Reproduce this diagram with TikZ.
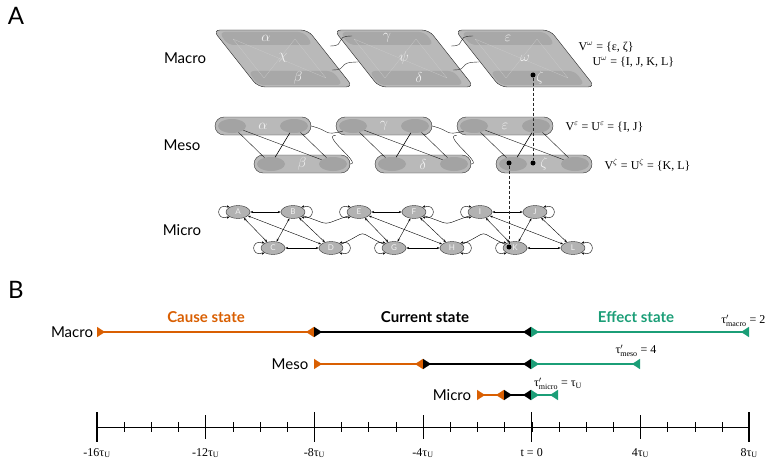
\documentclass[tikz,border=0pt]{standalone}
\usepackage{fontspec}
\setmainfont{Liberation Serif}
\newfontfamily\labelfont{Lato}
\usetikzlibrary{shapes.geometric,arrows.meta,positioning}

\tikzset{
  panel/.style={font=\labelfont\fontsize{24}{24}\selectfont},
  level/.style={font=\labelfont\fontsize{15}{15}\selectfont},
  setlab/.style={font=\fontsize{12}{12}\selectfont, anchor=west},
  micro/.style={ellipse, draw=gray!40!black, fill=gray!60, minimum width=24pt,
    minimum height=13pt, inner sep=0pt, text=gray!10, font=\labelfont\fontsize{8}{8}\selectfont},
  meso/.style={rectangle, rounded corners=9pt, draw=gray!40!black, fill=gray!55,
    minimum width=96pt, minimum height=18pt, inner sep=0pt},
  mesoin/.style={ellipse, fill=gray!72, minimum width=28pt, minimum height=14pt, inner sep=0pt},
  greek/.style={text=gray!10, font=\fontsize{14}{14}\selectfont},
  link/.style={<->, >={Stealth[length=3pt]}, thin},
  seg/.style={line width=1.3pt, {Triangle[reversed,length=8pt,width=10pt]}-{Triangle[reversed,length=8pt,width=10pt]}},
  dot/.style={circle, fill=black, inner sep=0pt, minimum size=5pt},
}
\definecolor{cause}{RGB}{217,95,2}
\definecolor{effect}{RGB}{27,158,119}

\begin{document}
\begin{tikzpicture}[x=1pt,y=1pt,yscale=-1]
\useasboundingbox (0,0) rectangle (769,460);

% panel A
\node[panel] (pa) at (16,16) {A};
\node[level] (lmacro) at (185,58) {Macro};
\node[level] (lmeso) at (182,145) {Meso};
\node[level] (lmicro) at (182,230) {Micro};

% macro level
\foreach \c/\big/\up/\lo in {0/\chi/\alpha/\beta, 1/\psi/\gamma/\delta, 2/\omega/\varepsilon/\zeta}{
  \begin{scope}[xshift=\c*121pt]
    \draw[draw=gray!30!black, fill=gray!55, rounded corners=7pt]
      (213,30) -- (308,30) -- (353,87) -- (258,87) -- cycle;
    \fill[gray!68, rounded corners=6pt] (219,32) -- (304,32) -- (313,45) -- (228,45) -- cycle;
    \fill[gray!68, rounded corners=6pt] (248,71) -- (333,71) -- (343,85) -- (258,85) -- cycle;
    \draw[gray!40, very thin] (233,39) -- (264,78) (295,39) -- (326,78) (233,39) -- (326,78) (295,39) -- (264,78);
    \node[greek] at (283,58) {$\big$};
    \node[greek] at (266,38) {$\up$};
    \node[greek] at (298,78) {$\lo$};
  \end{scope}
}
\foreach \c in {0,1}{
  \begin{scope}[xshift=\c*121pt]
    \draw[gray!30!black, thin] (330,46) .. controls (348,46) and (332,36) .. (352,36);
    \draw[gray!30!black, thin] (332,70) .. controls (350,70) and (335,62) .. (358,62);
  \end{scope}
}

% meso level
\foreach \c/\up/\lo in {0/\alpha/\beta, 1/\gamma/\delta, 2/\varepsilon/\zeta}{
  \node[meso] (top\c) at (263+\c*121,126) {};
  \node[meso] (bot\c) at (302+\c*121,164) {};
  \node[mesoin] (tl\c) at (232+\c*121,126) {};
  \node[mesoin] (tr\c) at (294+\c*121,126) {};
  \node[mesoin] (bl\c) at (271+\c*121,164) {};
  \node[mesoin] (br\c) at (333+\c*121,164) {};
  \node[greek] at (263+\c*121,126) {$\up$};
  \node[greek] at (302+\c*121,164) {$\lo$};
  \draw[gray!20!black, thin] (tl\c) -- (bl\c) (tr\c) -- (br\c) (tl\c) -- (br\c);
  \draw[black, semithick] (tr\c) -- (bl\c);
}
\foreach \c/\n in {0/1, 1/2}{
  \draw[gray!20!black, thin] (top\c.east) .. controls +(20,5) and +(-20,5) .. (tl\n.south west);
  \draw[gray!20!black, thin] (bot\c.east) .. controls +(12,0) and +(-15,0) .. (top\n.south west);
}

% micro level
\foreach \c/\a/\b/\d/\e in {0/A/B/C/D, 1/E/F/G/H, 2/I/J/K/L}{
  \node[micro] (\a) at (238+\c*121,212) {\a};
  \node[micro] (\b) at (293+\c*121,212) {\b};
  \node[micro] (\d) at (273+\c*121,248) {\d};
  \node[micro] (\e) at (331+\c*121,248) {\e};
  \draw[link] (\a) -- (\b);
  \draw[link] (\d) -- (\e);
  \draw[link] (\a) -- (\d);
  \draw[link] (\b) -- (\e);
  \draw[link] (\a) -- (\e);
  \draw[link] (\b) -- (\d);
  \draw[link] (\a.150) .. controls +(-14,-4) and +(-14,4) .. (\a.210);
  \draw[link] (\b.30) .. controls +(14,-4) and +(14,4) .. (\b.-30);
  \draw[link] (\d.150) .. controls +(-14,-4) and +(-14,4) .. (\d.210);
  \draw[link] (\e.30) .. controls +(14,-4) and +(14,4) .. (\e.-30);
}
\draw[thin] (B.-20) .. controls +(30,10) and +(-30,10) .. (E.200);
\draw[thin] (D.20) .. controls +(30,-14) and +(-30,-14) .. (G.160);
\draw[thin] (F.-20) .. controls +(30,10) and +(-30,10) .. (I.200);
\draw[thin] (H.20) .. controls +(30,-14) and +(-30,-14) .. (K.160);

% dashed links between levels
\node[dot] (d1) at (533,75) {};
\node[dot] (d2) at (533,163) {};
\node[dot] (d3) at (509,163) {};
\node[dot] (d4) at (509,247) {};
\draw[densely dashed, gray!30!black] (d1) -- (d2);
\draw[densely dashed, gray!30!black] (d3) -- (d4);

\node[setlab] (vw) at (575,47) {V$^\omega$ = \{ε, ζ\}};
\node[setlab] (uw) at (589,62) {U$^\omega$ = \{I, J, K, L\}};
\node[setlab] (ve) at (562,127) {V$^\varepsilon$ = U$^\varepsilon$ = \{I, J\}};
\node[setlab] (vz) at (601,165) {V$^\zeta$ = U$^\zeta$ = \{K, L\}};

% panel B
\node[panel] (pb) at (16,290) {B};
\node[level] (bmacro) at (72,332) {Macro};
\node[level] (bmeso) at (290,364) {Meso};
\node[level] (bmicro) at (452,395) {Micro};

\node[font=\labelfont\bfseries\fontsize{15}{15}\selectfont, text=cause] (cs) at (206,317) {Cause state};
\node[font=\labelfont\bfseries\fontsize{15}{15}\selectfont] (cur) at (425,317) {Current state};
\node[font=\labelfont\bfseries\fontsize{15}{15}\selectfont, text=effect] (es) at (636,317) {Effect state};

\coordinate (m0) at (97,332);  \coordinate (m1) at (314,332);
\coordinate (m2) at (531,332); \coordinate (m3) at (749,332);
\draw[seg, cause] (m0) -- (m1);
\draw[seg, black] (m1) -- (m2);
\draw[seg, effect] (m2) -- (m3);

\coordinate (s0) at (314,364); \coordinate (s1) at (423,364);
\coordinate (s2) at (531,364); \coordinate (s3) at (640,364);
\draw[seg, cause] (s0) -- (s1);
\draw[seg, black] (s1) -- (s2);
\draw[seg, effect] (s2) -- (s3);

\coordinate (u0) at (477,395); \coordinate (u1) at (504,395);
\coordinate (u2) at (531,395); \coordinate (u3) at (558,395);
\draw[seg, cause] (u0) -- (u1);
\draw[seg, black] (u1) -- (u2);
\draw[seg, effect] (u2) -- (u3);

\node[font=\fontsize{12}{12}\selectfont, anchor=east] (tmac) at (769,321) {τ$'_{\mathrm{macro}}$ = 2};
\node[font=\fontsize{12}{12}\selectfont] (tmes) at (636,351) {τ$'_{\mathrm{meso}}$ = 4};
\node[font=\fontsize{12}{12}\selectfont] (tmic) at (558,384) {τ$'_{\mathrm{micro}}$ = τ$_\mathrm{U}$};

% time axis
\draw[thin] (97,427) -- (749,427);
\foreach \k in {-16,...,8}{
  \draw[thin] ({531.7+\k*27.17},422) -- ({531.7+\k*27.17},432);
}
\foreach \k in {-16,-8,0,8}{
  \draw[line width=1.4pt] ({531.7+\k*27.17},412) -- ({531.7+\k*27.17},442);
}
\foreach \k in {-12,-4,4}{
  \draw[line width=1pt] ({531.7+\k*27.17},415) -- ({531.7+\k*27.17},439);
}
\foreach \k/\t in {-16/-16τ$_\mathrm{U}$, -12/-12τ$_\mathrm{U}$, -8/-8τ$_\mathrm{U}$, -4/-4τ$_\mathrm{U}$, 0/t = 0, 4/4τ$_\mathrm{U}$, 8/8τ$_\mathrm{U}$}{
  \node[font=\fontsize{12}{12}\selectfont] at ({531.7+\k*27.17},453) {\t};
}
\end{tikzpicture}
\end{document}
